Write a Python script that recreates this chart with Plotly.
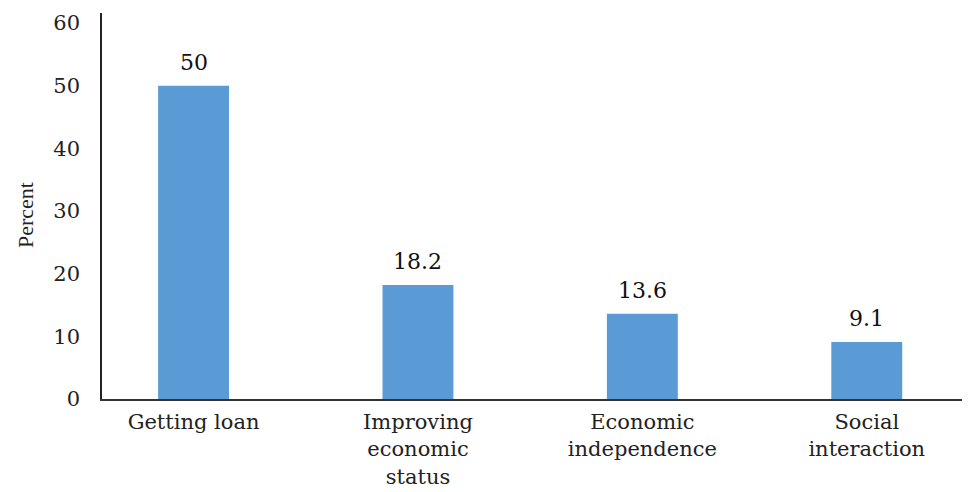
import plotly.graph_objects as go

categories = ["Getting loan", "Improving<br>economic<br>status", "Economic<br>independence", "Social<br>interaction"]
values = [50, 18.2, 13.6, 9.1]
value_labels = ["50", "18.2", "13.6", "9.1"]
y_ticks = [0, 10, 20, 30, 40, 50, 60]

# page body has an 8px margin; figure is sized so that it ends at the window edge
OFF = 8
W, H = 970 - OFF, 492 - OFF
L, R, T = 102 - OFF, 0, 13 - OFF
B = H - (399 - OFF)
PH = H - T - B

SERIF = "DejaVu Serif"

fig = go.Figure(go.Bar(
    x=list(range(len(categories))),
    y=values,
    marker=dict(color="#5b9bd5", line=dict(width=0)),
    width=0.316,
    hoverinfo="y",
))

annotations = []
# value labels above bars
for i, (v, lab) in enumerate(zip(values, value_labels)):
    annotations.append(dict(
        x=i, y=v, xref="x", yref="y", text=lab, showarrow=False,
        xanchor="center", yanchor="bottom", yshift=9,
        font=dict(family=SERIF, size=22, color="#111"),
    ))
# y axis title
annotations.append(dict(
    text="Percent", textangle=-90,
    xref="paper", yref="paper",
    x=(25 - OFF - L) / (W - L - R), y=(H - B - (215 - OFF)) / PH,
    xanchor="center", yanchor="middle", showarrow=False,
    font=dict(family="Liberation Serif", size=22, color="#222"),
))

fig.update_layout(
    width=W, height=H,
    margin=dict(l=L, r=R, t=T, b=B, autoexpand=False),
    paper_bgcolor="white", plot_bgcolor="white",
    showlegend=False,
    xaxis=dict(
        range=[-0.408, 3.46],
        tickmode="array",
        tickvals=list(range(len(categories))),
        ticktext=categories,
        tickfont=dict(family=SERIF, size=21, color="#222"),
        ticklabelstandoff=3,
        showline=True, linecolor="#333", linewidth=1.5,
        showgrid=False, zeroline=False, ticks="",
        automargin=False, fixedrange=True,
    ),
    yaxis=dict(
        range=[0, 61.6],
        tickmode="array",
        tickvals=y_ticks,
        ticktext=[str(v) for v in y_ticks],
        tickfont=dict(family=SERIF, size=21, color="#222"),
        showline=True, linecolor="#222", linewidth=1.5,
        showgrid=False, zeroline=False, ticks="",
        ticklabelstandoff=16,
        automargin=False, fixedrange=True,
    ),
    annotations=annotations,
)

fig.write_html("out.html")
